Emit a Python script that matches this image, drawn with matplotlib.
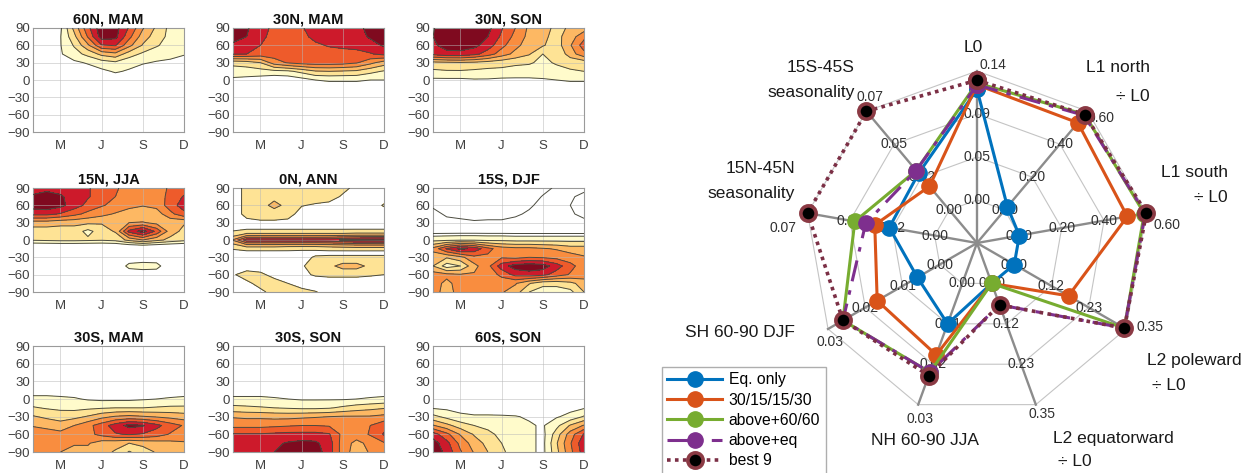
import numpy as np
import matplotlib
matplotlib.use('Agg')
import matplotlib.pyplot as plt

plt.rcParams['font.family'] = ['Liberation Sans', 'DejaVu Sans']
plt.rcParams['contour.negative_linestyle'] = 'solid'

# ---------------- data: contour panels ----------------
months = np.arange(1, 13)
lat15 = np.array([90, 75, 60, 45, 30, 15, 0, -15, -30, -45, -60, -75, -90])
lat_ann = np.array([90, 75, 60, 45, 30, 20, 10, 0, -10, -20, -30, -45, -60, -75, -90])
month_ticks = [3, 6, 9, 12]
month_labels = ['M', 'J', 'S', 'D']
lat_ticks = [90, 60, 30, 0, -30, -60, -90]
panel_titles = ['60N, MAM', '30N, MAM', '30N, SON', '15N, JJA', '0N, ANN',
                '15S, DJF', '30S, MAM', '30S, SON', '60S, SON']

f_60N_MAM = """
0 0 0.3 2.8 5.2 7.2 6.9 5.4 3.6 2.3 1.2 1.1
0 0 0.45 2.2 4.6 7.0 6.8 4.8 3.0 2.0 1.2 1.1
0 0 0.45 1.6 3.3 5.4 5.6 3.8 2.4 1.6 1.1 1.0
0 0 0.4 1.1 1.8 2.8 3.2 2.0 1.3 1.0 0.8 0.55
0 0 0 0.3 0.6 1.0 1.3 0.8 0.6 0.4 0.3 0.2
0 0 0 0 0 0.3 0.6 0.4 0 0 0 0
0 0 0 0 0 0 0 0 0 0 0 0
0 0 0 0 0 0 0 0 0 0 0 0
0 0 0 0 0 0 0 0 0 0 0 0
0 0 0 0 0 0 0 0 0 0 0 0
0 0 0 0 0 0 0 0 0 0 0 0
0 0 0 0 0 0 0 0 0 0 0 0
0 0 0 0 0 0 0 0 0 0 0 0
"""
f_30N_MAM = """
7.0 6.6 6.0 5.2 5.0 5.4 6.0 6.1 6.2 6.3 6.7 7.1
6.9 6.5 5.8 5.1 5.0 5.2 5.8 6.0 6.1 6.2 6.6 7.0
6.3 6.1 5.5 5.0 5.0 5.0 5.3 5.6 5.8 5.9 6.2 6.6
5.6 5.5 5.1 5.0 5.0 5.0 5.0 5.0 5.0 5.1 5.4 5.8
1.8 2.0 2.5 4.0 4.6 4.9 5.0 5.0 4.9 4.6 3.8 3.0
1.0 1.0 1.1 1.2 1.3 1.8 2.4 2.5 2.4 2.3 1.8 1.4
0.3 0.2 0.0 -0.3 -0.2 0.1 0.5 0.6 0.6 0.6 0.5 0.5
0 0 0 0 0 0 0 0 0 0 0 0
0 0 0 0 0 0 0 0 0 0 0 0
0 0 0 0 0 0 0 0 0 0 0 0
0 0 0 0 0 0 0 0 0 0 0 0
0 0 0 0 0 0 0 0 0 0 0 0
0 0 0 0 0 0 0 0 0 0 0 0
"""
f_30N_SON = """
6.4 7.2 7.4 7.2 6.8 5.6 4.5 3.3 2.8 2.3 2.6 3.0
6.5 7.1 7.3 7.1 6.5 5.3 4.2 3.2 2.7 2.2 3.0 4.2
6.3 6.9 7.0 6.8 6.0 4.8 3.8 3.0 2.6 2.0 3.4 5.0
5.8 6.2 6.2 5.8 5.0 4.0 3.2 2.6 1.5 1.6 3.0 4.2
2.2 2.3 2.4 2.3 2.1 1.9 1.7 1.6 1.3 1.6 1.8 1.9
1.3 1.4 1.4 1.3 1.2 1.2 1.1 1.1 1.0 1.2 1.4 1.5
0.3 0.3 0.3 0.4 0.4 0.3 0.3 0.3 0.4 0.5 0.6 0.6
0 0 0 0 0 0 0 0 0 0 0 0
0 0 0 0 0 0 0 0 0 0 0 0
0 0 0 0 0 0 0 0 0 0 0 0
0 0 0 0 0 0 0 0 0 0 0 0
0 0 0 0 0 0 0 0 0 0 0 0
0 0 0 0 0 0 0 0 0 0 0 0
"""
f_15N_JJA = """
6.2 6.3 6.2 6.0 5.6 5.0 4.6 4.2 4.0 4.2 4.6 5.0
6.6 6.8 6.6 6.2 5.6 5.0 4.5 4.0 3.8 4.0 4.8 5.6
7.0 7.2 6.8 6.0 5.2 4.6 4.2 3.8 3.6 3.8 5.0 6.0
5.8 5.8 5.4 4.8 4.2 3.8 3.4 3.0 2.5 3.0 4.2 5.2
3.0 3.0 2.8 2.8 2.7 2.6 2.6 3.5 3.6 3.2 2.8 2.6
2.0 2.0 2.0 2.0 1.2 2.0 2.6 5.8 7.0 5.2 3.0 2.2
1.6 1.7 1.8 1.8 1.7 1.6 1.8 2.8 3.5 2.8 2.2 1.8
-1.5 -1.5 -1.5 -1.5 -1.5 -1.5 -1.5 -1.5 -1.5 -1.5 -1.5 -1.5
-1 -1 -1 -1 -1 -1 -0.6 -0.2 -0.2 -0.2 -0.6 -1
-1 -1 -1 -1 -1 -1 -0.4 0.8 1.0 0.9 -0.4 -1
-1 -1 -1 -1 -1 -1 -0.6 -0.2 -0.2 -0.2 -0.6 -1
-1 -1 -1 -1 -1 -1 -1 -1 -1 -1 -1 -1
-1 -1 -1 -1 -1 -1 -1 -1 -1 -1 -1 -1
"""
f_0N_ANN = """
0 0.8 1.0 1.0 1.0 1.0 1.0 0.9 0.7 0.3 0 0
0 0.8 1.0 1.2 1.0 1.0 0.9 0.8 0.4 0.1 0 0
0 0.8 1.1 1.8 1.2 0.55 0.4 0.3 0 0 0 0.6
0 0.8 1.0 1.0 0.9 0.1 0 0 0 0 0 0
0 0.2 0.3 0.3 0.2 0.1 0 0 0 0 0 0
0.2 0.3 0.3 0.3 0.3 0.3 0.3 0.3 0.3 0.3 0.3 0.3
0.9 1.7 1.7 1.7 1.7 1.7 1.7 1.7 1.7 1.8 1.8 1.8
2.6 5.1 5.1 5.1 5.1 5.1 5.1 5.2 5.6 5.9 6.0 6.1
1.0 1.8 1.8 1.8 1.7 1.7 1.7 1.8 1.9 2.0 2.0 2.0
0.2 0.3 0.3 0.3 0.3 0.2 0.2 0.3 0.3 0.3 0.3 0.3
0 0 0 0 0 0.2 0.6 0.6 0.6 0.6 0.6 0.6
0 0 0 0 0 0.4 0.9 1.2 1.9 1.9 1.2 1.0
0.4 0.9 0.7 0.2 0 0.3 0.6 0.7 0.7 0.7 0.6 0.5
0 0.3 0.8 0.9 0.5 0.1 0 0 0 0 0 0
0 0 0.3 0.8 0.9 0.8 0.55 0.2 0 0 0 0
"""
f_15S_DJF = """
-0.7 -0.7 -0.7 -0.7 -0.7 -0.7 -0.7 -0.7 -0.6 -0.45 -0.4 -0.4
-0.7 -0.7 -0.7 -0.7 -0.7 -0.7 -0.7 -0.65 -0.48 -0.4 -0.45 -0.6
-0.55 -0.65 -0.7 -0.7 -0.7 -0.7 -0.65 -0.55 -0.4 -0.4 -0.5 -0.7
-0.4 -0.55 -0.62 -0.65 -0.6 -0.6 -0.55 -0.45 -0.4 -0.4 -0.45 -0.6
-0.4 -0.4 -0.4 -0.45 -0.45 -0.45 -0.4 -0.4 -0.4 -0.4 -0.4 -0.4
-0.4 -0.4 -0.4 -0.4 -0.4 -0.4 -0.4 -0.4 -0.4 -0.4 -0.4 -0.4
1.2 1.3 1.4 1.4 1.3 1.3 1.2 1.2 1.2 1.2 1.2 1.2
3.8 5.6 6.8 6.2 4.8 4.0 3.8 3.8 3.6 3.4 3.0 3.0
3.0 2.6 3.2 4.2 4.3 4.4 4.2 4.5 4.4 4.2 4.0 3.6
2.5 1.0 1.5 3.2 4.2 6.0 7.0 7.2 7.0 6.0 4.8 4.0
4.0 3.8 3.6 3.6 3.8 4.8 5.8 6.0 5.8 5.0 4.4 4.0
4.0 3.2 4.0 4.0 4.0 3.8 3.6 2.6 1.8 1.8 2.2 3.0
4.0 3.0 4.0 4.0 4.0 3.6 3.0 1.5 1.0 1.0 1.2 2.5
"""
f_30S_MAM = """
0 0 0 0 0 0 0 0 0 0 0 0
0 0 0 0 0 0 0 0 0 0 0 0
0 0 0 0 0 0 0 0 0 0 0 0
0 0 0 0 0 0 0 0 0 0 0 0
0 0 0 0 0 0 0 0 0 0 0 0
0 0 0 0 0 0 0 0 0 0 0 0
0.8 0.8 0.7 0.6 0.4 0.3 0.3 0.3 0.4 0.5 0.6 0.7
1.6 1.4 1.3 1.2 1.3 1.4 1.5 1.5 1.5 1.6 1.7 1.7
2.6 2.3 2.0 2.2 2.6 3.2 3.6 3.8 3.6 3.4 3.2 3.0
3.4 3.2 3.0 3.5 4.2 5.0 6.0 6.8 6.6 5.8 5.0 4.4
4.2 4.0 3.8 4.0 4.2 4.8 5.4 5.6 5.4 5.0 4.4 4.0
4.0 4.0 3.8 3.6 3.6 3.0 2.8 2.5 2.8 3.0 3.2 3.4
4.0 3.8 3.5 3.2 3.2 2.8 2.4 1.4 2.0 2.6 3.0 3.2
"""
f_30S_SON = """
0 0 0 0 0 0 0 0 0 0 0 0
0 0 0 0 0 0 0 0 0 0 0 0
0 0 0 0 0 0 0 0 0 0 0 0
0 0 0 0 0 0 0 0 0 0 0 0
0 0 0 0 0 0 0 0 0 0 0 0
0 0 0 0 0 0 0 0 0 0 0 0
0.7 0.7 0.7 0.6 0.5 0.4 0.4 0.4 0.4 0.5 0.6 0.7
1.8 1.7 1.6 1.5 1.4 1.3 1.3 1.4 1.7 2.0 2.2 2.4
3.4 3.3 3.3 3.2 3.2 3.3 3.4 3.5 3.6 3.6 3.6 3.8
4.2 4.2 4.2 4.3 4.4 4.5 4.5 4.4 4.2 4.2 4.5 5.2
5.6 5.6 5.6 5.7 5.8 5.8 5.8 5.6 4.2 4.0 4.6 5.6
5.8 5.9 6.0 6.3 6.6 6.8 6.7 6.0 4.0 3.2 3.8 4.4
5.8 5.9 6.0 6.5 7.0 7.3 7.0 6.0 4.0 3.0 3.6 4.2
"""
f_60S_SON = """
0 0 0 0 0 0 0 0 0 0 0 0
0 0 0 0 0 0 0 0 0 0 0 0
0 0 0 0 0 0 0 0 0 0 0 0
0 0 0 0 0 0 0 0 0 0 0 0
0 0 0 0 0 0 0 0 0 0 0 0
0 0 0 0 0 0 0 0 0 0 0 0
0 0 0 0 0 0 0 0 0 0 0 0
0.4 0.3 0.2 0.1 0.1 0 0 0 0 0 0.2 0.4
1.8 1.2 0.7 0.6 0.6 0.6 0.55 0.4 0.3 0.4 0.8 1.6
3.6 2.8 2.0 1.5 1.2 1.0 0.9 0.6 0.4 1.2 2.6 3.6
6.0 4.8 3.4 2.4 1.8 1.2 1.0 0.8 0.2 2.0 4.0 5.6
7.0 5.8 4.2 3.0 2.2 1.5 1.0 0.8 0.2 2.4 4.4 6.2
7.2 6.2 4.6 3.4 2.5 1.7 1.0 0.8 0.2 2.2 4.2 6.0
"""

# ---------------- data: radar chart ----------------
axis_max = [0.14, 0.60, 0.60, 0.35, 0.35, 0.03, 0.03, 0.07, 0.07]
series_names = ['Eq. only', '30/15/15/30', 'above+60/60', 'above+eq', 'best 9']
eq_only = [0.120, 0.02, 0.00, 0.00, 0.00, 0.010, 0.006, 0.025, 0.026]
s30_15 = [0.125, 0.53, 0.51, 0.17, 0.00, 0.0177, 0.0168, 0.033, 0.0168]
above_6060 = [0.127, 0.58, 0.59, 0.345, 0.00, 0.022, 0.026, 0.044, 0.028]
above_eq = [0.125, 0.575, 0.595, 0.345, 0.062, 0.022, 0.026, 0.038, 0.028]
best9 = [0.130, 0.58, 0.60, 0.345, 0.062, 0.0228, 0.026, 0.070, 0.070]


def parse(s):
    return np.array([[float(v) for v in line.split()] for line in s.strip().splitlines()])


fields = [f_60N_MAM, f_30N_MAM, f_30N_SON, f_15N_JJA, f_0N_ANN,
          f_15S_DJF, f_30S_MAM, f_30S_SON, f_60S_SON]

W, H = 1244, 473
fig = plt.figure(figsize=(W / 100, H / 100), dpi=100)

fill_colors = ['#FFFBCB', '#FEE395', '#FDB863', '#F98D3F', '#EE5B2B', '#CD1A2B', '#7F0A1F']
line_col = '#4b4b3f'
col_left = [33, 233, 433]
row_top = [28, 188, 346]
row_h = [104, 104, 106]
pw = 151

for i in range(9):
    r, c = divmod(i, 3)
    l = col_left[c]
    t = row_top[r]
    h = row_h[r]
    ax = fig.add_axes([l / W, 1 - (t + h) / H, pw / W, h / H])
    Z = parse(fields[i])
    latg = lat_ann if i == 4 else lat15
    off = 1 if i == 4 else 0
    lv = list(np.arange(0.5, 7.0 - off, 1.0))
    ax.contourf(months, latg, Z, levels=lv + [1000], colors=fill_colors[off:], zorder=1)
    lines = list(lv)
    if i == 5:
        lines = [-0.5, 0.0] + lines
    ax.contour(months, latg, Z, levels=lines, colors=line_col, linewidths=0.7,
               linestyles='solid', zorder=3)
    ax.set_xlim(1, 12)
    ax.set_ylim(-90, 90)
    ax.set_xticks(month_ticks)
    ax.set_xticklabels(month_labels)
    ax.set_yticks(lat_ticks)
    ax.tick_params(length=0, labelsize=9.5, colors='#404040')
    ax.tick_params(axis='x', pad=6)
    ax.tick_params(axis='y', pad=2)
    ax.grid(True, color='#b8b8b8', lw=0.6, alpha=0.6)
    for s in ax.spines.values():
        s.set_color('#9a9a9a')
        s.set_linewidth(0.8)
    ax.set_title(panel_titles[i], fontsize=10.5, fontweight='bold', pad=3, color='#111111')

# ---------------- radar ----------------
rax = fig.add_axes([0, 0, 1, 1])
rax.set_xlim(0, W)
rax.set_ylim(H, 0)
rax.axis('off')

cx, cy, R = 977, 243, 172
n = len(axis_max)
th = np.deg2rad(90 - 40 * np.arange(n))


def to_xy(k, f):
    return cx + R * f * np.cos(th[k]), cy - R * f * np.sin(th[k])


# rings
for j in range(4):
    f = 0.25 + 0.25 * j
    pts = [to_xy(k, f) for k in list(range(n)) + [0]]
    rax.plot([p[0] for p in pts], [p[1] for p in pts], color='#c4c4c4', lw=0.8, zorder=1)
# spokes
for k in range(n):
    x1, y1 = to_xy(k, 1.0)
    rax.plot([cx, x1], [cy, y1], color='#8c8c8c', lw=1.7, zorder=1)

# tick labels
outer_off = [(16, -6), (13, 7), (21, 12), (24, -2), (6, 9), (2, 14), (2, 13), (-25, 15), (4, -14)]
for k in range(n):
    for j in range(4):
        v = axis_max[k] * j / 3
        f = 0.25 + 0.25 * j
        x, y = to_xy(k, f)
        if j == 3:
            x += outer_off[k][0]
            y += outer_off[k][1]
        rax.text(x, y, f'{v:.2f}', fontsize=10, color='#303030', ha='center', va='center', zorder=2)

# category labels
cat_labels = [
    ('L0', 973, 47, 'center'),
    ('L1 north', 1150, 67, 'right'), ('÷ L0', 1150, 96, 'right'),
    ('L1 south', 1228, 172, 'right'), ('÷ L0', 1228, 197, 'right'),
    ('L2 poleward', 1147, 360, 'left'), ('÷ L0', 1152, 385, 'left'),
    ('L2 equatorward', 1053, 438, 'left'), ('÷ L0', 1058, 461, 'left'),
    ('NH 60-90 JJA', 925, 440, 'center'),
    ('SH 60-90 DJF', 685, 332, 'left'),
    ('15N-45N', 795, 168, 'right'), ('seasonality', 795, 193, 'right'),
    ('15S-45S', 855, 68, 'right'), ('seasonality', 855, 93, 'right'),
]
for txt, x, y, ha in cat_labels:
    rax.text(x, y, txt, fontsize=12.5, color='#1a1a1a', ha=ha, va='center')

series = [eq_only, s30_15, above_6060, above_eq, best9]
styles = [
    dict(color='#0072BD', ls='-', lw=2.2, marker='o', ms=11, mfc='#0072BD', mec='#0072BD'),
    dict(color='#D95319', ls='-', lw=2.2, marker='o', ms=11, mfc='#D95319', mec='#D95319'),
    dict(color='#77AC30', ls='-', lw=2.2, marker='o', ms=11, mfc='#77AC30', mec='#77AC30'),
    dict(color='#7E2F8E', ls=(0, (7, 3, 1.5, 3)), lw=2.2, marker='o', ms=11, mfc='#7E2F8E', mec='#7E2F8E'),
    dict(color='#7B2F45', ls=(0, (1, 1.2)), lw=2.6, marker='o', ms=11, mfc='black', mec='#8B3A44', mew=2.6),
]
handles = []
for vals, st, name in zip(series, styles, series_names):
    f = 0.25 + 0.75 * np.array(vals) / np.array(axis_max)
    xs, ys = to_xy(np.arange(n), f)
    xs = np.append(xs, xs[0])
    ys = np.append(ys, ys[0])
    h, = rax.plot(xs, ys, label=name, zorder=4, **st)
    handles.append(h)

leg = rax.legend(handles=handles, loc='upper left', bbox_to_anchor=(662 / W, 1 - 367 / H),
                 bbox_transform=fig.transFigure, fontsize=11.3, frameon=True, fancybox=False,
                 edgecolor='#9a9a9a', handlelength=3.5, handletextpad=0.4, labelspacing=0.33,
                 borderpad=0.35, borderaxespad=0, numpoints=1)
leg.get_frame().set_linewidth(1.0)

fig.savefig('out.png', dpi=100)
